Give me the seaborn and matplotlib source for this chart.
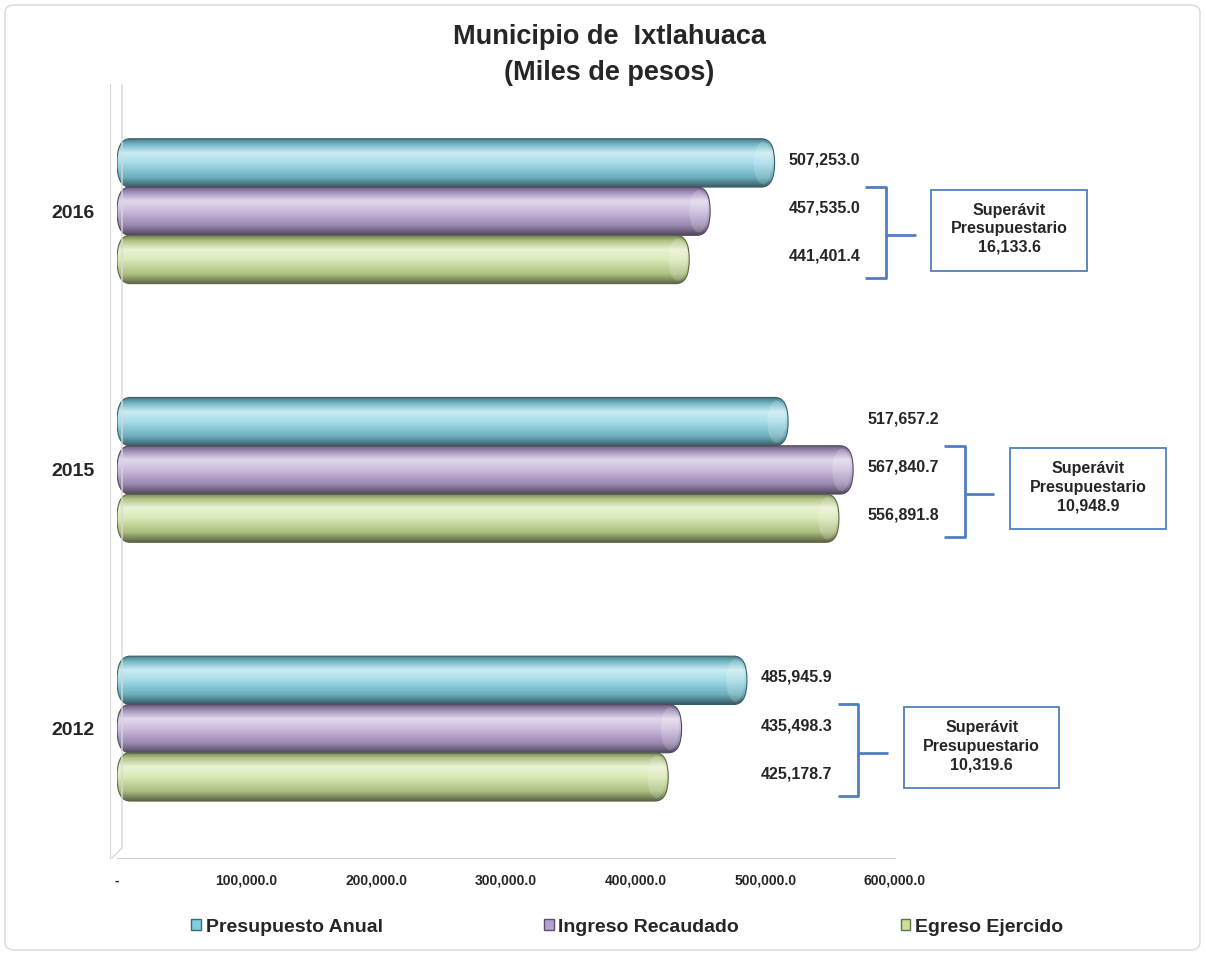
import numpy as np
import pandas as pd
import seaborn as sns
import matplotlib.pyplot as plt
from matplotlib.patches import FancyBboxPatch, Rectangle, Ellipse
from matplotlib.lines import Line2D
from matplotlib.colors import LinearSegmentedColormap, to_rgb
from matplotlib.ticker import FuncFormatter

years = ["2016", "2015", "2012"]
series = ["Presupuesto Anual", "Ingreso Recaudado", "Egreso Ejercido"]
presupuesto = [507253.0, 517657.2, 485945.9]
ingreso = [457535.0, 567840.7, 435498.3]
egreso = [441401.4, 556891.8, 425178.7]
x_ticks = [0, 100000, 200000, 300000, 400000, 500000, 600000]

colors = {"Presupuesto Anual": "#7fcfe0",
          "Ingreso Recaudado": "#b6a0d0",
          "Egreso Ejercido": "#cbe098"}

df = pd.DataFrame({
    "year": years * 3,
    "serie": np.repeat(series, len(years)),
    "valor": presupuesto + ingreso + egreso,
})

sns.set_style("white")
plt.rcParams["font.family"] = ["Liberation Sans", "DejaVu Sans"]

fig = plt.figure(figsize=(12.06, 9.55), dpi=100)
ax = fig.add_axes([0.097, 0.1016, 0.645, 0.81])

sns.barplot(data=df, x="valor", y="year", hue="serie", order=years,
            hue_order=series, palette=colors, width=0.56, orient="h",
            ax=ax, legend=False)

# spines first (set_position resets the ticks)
for s in ["top", "right"]:
    ax.spines[s].set_visible(False)
ax.spines["bottom"].set_color("#d0d0d0")
ax.spines["left"].set_color("#d8d8d8")
ax.spines["left"].set_position(("outward", 5))


def shade(c):
    r = np.array(to_rgb(c))
    white = np.ones(3)
    return LinearSegmentedColormap.from_list("cyl", [
        (0.0, r * 0.55),
        (0.12, r * 0.88),
        (0.3, r + (white - r) * 0.6),
        (0.5, r + (white - r) * 0.3),
        (0.8, r * 0.85),
        (1.0, r * 0.45),
    ])


grad = np.linspace(0, 1, 200).reshape(-1, 1)
cap = 10000
for name, cont in zip(series, ax.containers):
    base = colors[name]
    cmap = shade(base)
    for bar in cont:
        x0, y0 = bar.get_x(), bar.get_y()
        w, h = bar.get_width(), bar.get_height()
        bar.set_visible(False)
        body = FancyBboxPatch((x0, y0), w, h,
                              boxstyle=f"round,pad=0,rounding_size={cap}",
                              mutation_aspect=(h / 2) / cap,
                              facecolor="none",
                              edgecolor=np.array(to_rgb(base)) * 0.45,
                              lw=0.8, zorder=3)
        ax.add_patch(body)
        im = ax.imshow(grad, cmap=cmap, aspect="auto", origin="upper",
                       extent=(x0, x0 + w, y0 + h, y0), zorder=2)
        im.set_clip_path(body)
        # lighter end face of the cylinder
        ax.add_patch(Ellipse((x0 + w - cap * 0.9, y0 + h / 2), cap * 1.4, h * 0.88,
                             facecolor="white", alpha=0.18, edgecolor="none", zorder=3))

ax.set_xlim(0, 600000)
ax.set_ylim(2.5, -0.49)

# value labels, brackets and surplus boxes
vals = np.array([presupuesto, ingreso, egreso])
bars = [list(c) for c in ax.containers]
blue = "#4f7fbf"
for j, yr in enumerate(years):
    lx = vals[:, j].max() + 11000
    for i in range(3):
        b = bars[i][j]
        ax.text(lx, b.get_y() + b.get_height() / 2 - 0.012, f"{vals[i, j]:,.1f}",
                ha="left", va="center", fontsize=11.5, fontweight="bold",
                clip_on=False)
    top = bars[1][j].get_y()
    bottom = bars[2][j].get_y() + bars[2][j].get_height()
    mid = bars[2][j].get_y()
    bx = lx + 75000
    kw = dict(color=blue, lw=2, clip_on=False, solid_capstyle="butt")
    ax.plot([bx - 16000, bx, bx, bx - 16000], [top, top, bottom - 0.02, bottom - 0.02], **kw)
    ax.plot([bx, bx + 23000], [mid, mid], **kw)
    box_x = bx + 35000
    ax.add_patch(Rectangle((box_x, top + 0.01), 120000, bottom - top - 0.06,
                           facecolor="white", edgecolor=blue, lw=1.3,
                           clip_on=False, zorder=4))
    surplus = vals[1, j] - vals[2, j]
    ax.text(box_x + 60000, (top + bottom - 0.05) / 2,
            f"Superávit\nPresupuestario\n{surplus:,.1f}",
            ha="center", va="center", fontsize=11.5, fontweight="bold",
            linespacing=1.3, zorder=5, clip_on=False)

# ticks
ax.set_xlabel("")
ax.set_ylabel("")
ax.set_xticks(x_ticks)
ax.xaxis.set_major_formatter(FuncFormatter(lambda v, p: "-" if v == 0 else f"{v:,.1f}"))
for lab in ax.get_xticklabels():
    lab.set_fontweight("bold")
    lab.set_fontsize(10)
ax.set_yticks(range(len(years)))
ax.set_yticklabels(years, fontweight="bold", fontsize=14)
ax.tick_params(axis="x", direction="in", length=5, color="#d0d0d0", pad=11)
ax.tick_params(axis="y", length=0, pad=11)

# second wall line of the 3D frame
W, H = 1206, 955
fig.add_artist(Line2D([122 / W, 122 / W, 112 / W], [1 - 85 / H, 1 - 848 / H, 1 - 858 / H],
                      color="#d8d8d8", lw=1))

fig.text(0.505, 0.975, "Municipio de  Ixtlahuaca\n(Miles de pesos)", ha="center",
         va="top", fontsize=19.5, fontweight="bold", linespacing=1.5)

handles = [plt.Rectangle((0, 0), 1, 1, facecolor=colors[s],
                         edgecolor=np.array(to_rgb(colors[s])) * 0.5) for s in series]
fig.legend(handles, series, loc="center", bbox_to_anchor=(0.52, 0.029), ncol=3,
           frameon=False, prop={"weight": "bold", "size": 14}, handlelength=0.5,
           handleheight=0.5, handletextpad=0.25, columnspacing=8.3)

fig.add_artist(FancyBboxPatch((5 / W, 5 / H), 1195 / W, 945 / H,
                              boxstyle="round,pad=0,rounding_size=0.008",
                              transform=fig.transFigure, facecolor="none",
                              edgecolor="#d9d9d9", lw=1))

fig.savefig("out.png", dpi=100)
